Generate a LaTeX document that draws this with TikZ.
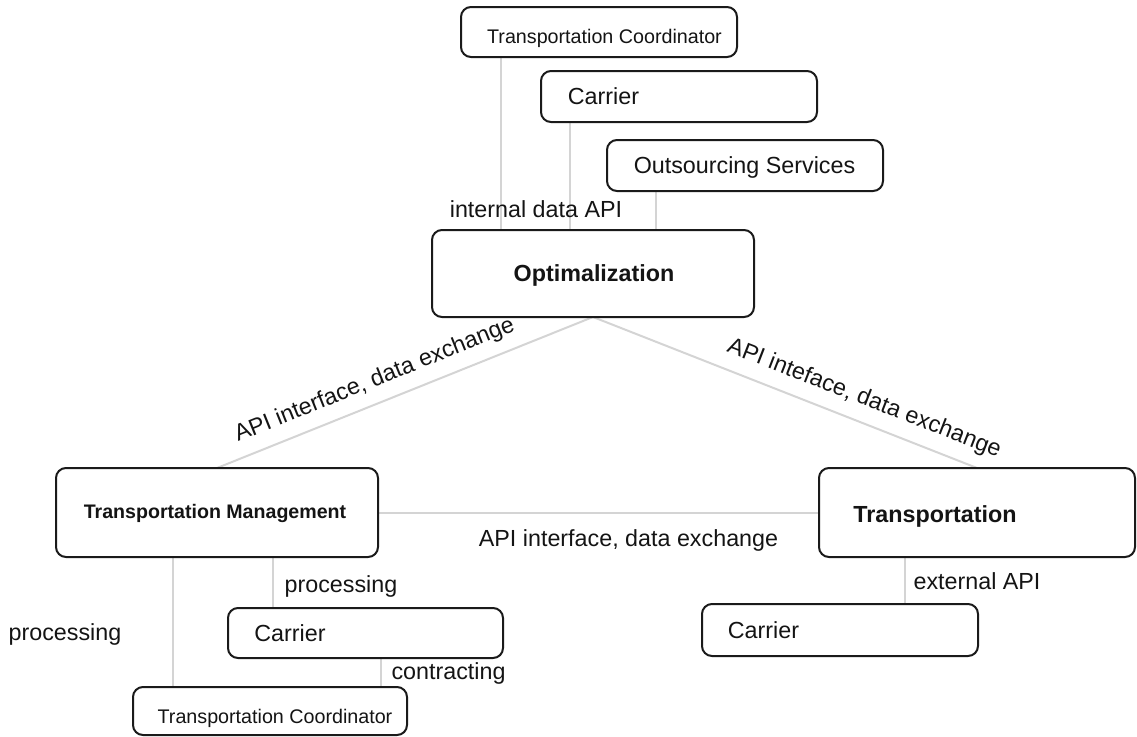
\documentclass[tikz,border=0pt]{standalone}
\usepackage{fontspec}
\setmainfont{Liberation Sans}
\usetikzlibrary{calc,backgrounds}
\definecolor{boxline}{HTML}{1A1A1A}
\definecolor{linkgray}{HTML}{D4D4D4}
\definecolor{txt}{HTML}{141414}
\begin{document}
\begin{tikzpicture}[x=1pt,y=-1pt,
  box/.style={draw=boxline, line width=2pt, rounded corners=10pt,
    inner sep=0pt, outer sep=0pt, fill=white},
  link/.style={draw=linkgray, line width=2pt},
  lbl/.style={inner sep=0pt, anchor=base, text=txt,
    font=\fontsize{23.3}{28}\selectfont},
  lblsmall/.style={lbl, font=\fontsize{19.7}{24}\selectfont},
  title/.style={lbl, font=\fontsize{23.3}{28}\selectfont\bfseries},
  titlesmall/.style={lbl, font=\fontsize{19.6}{24}\selectfont\bfseries}
]
\useasboundingbox (0,0) rectangle (1137,736);

% boxes
\node[box, minimum width=276pt, minimum height=50pt] (tcTop) at (599,32) {};
\node[box, minimum width=276pt, minimum height=51pt] (carTop) at (679,96.5) {};
\node[box, minimum width=276pt, minimum height=51pt] (outs) at (745,165.5) {};
\node[box, minimum width=322pt, minimum height=87pt] (opt) at (593,273.5) {};
\node[box, minimum width=322pt, minimum height=89pt] (tm) at (217,512.5) {};
\node[box, minimum width=316pt, minimum height=89pt] (tr) at (977,512.5) {};
\node[box, minimum width=275pt, minimum height=50pt] (carL) at (365.5,633) {};
\node[box, minimum width=274pt, minimum height=48pt] (tcBot) at (270,711) {};
\node[box, minimum width=276pt, minimum height=52pt] (carR) at (840,630) {};

% box texts
\node[lblsmall] (tTcTop) at (604.5,43.3) {Transportation Coordinator};
\node[lbl] (tCarTop) at (603.5,104) {Carrier};
\node[lbl] (tOuts) at (744.5,173) {Outsourcing Services};
\node[title] (tOpt) at (594,281) {Optimalization};
\node[titlesmall] (tTm) at (215,518) {Transportation Management};
\node[title] (tTr) at (935,522.7) {Transportation};
\node[lbl] (tCarL) at (290,641) {Carrier};
\node[lblsmall] (tTcBot) at (275,723) {Transportation Coordinator};
\node[lbl] (tCarR) at (763.5,638) {Carrier};

% connectors
\begin{scope}[on background layer]
  \path ([xshift=40pt]tcTop.south west) coordinate (c1)
        ([xshift=29pt]carTop.south west) coordinate (c2)
        ([xshift=49pt]outs.south west) coordinate (c3)
        ([xshift=117pt]tm.south west) coordinate (c4)
        ([xshift=217pt]tm.south west) coordinate (c5)
        ([xshift=153pt]carL.south west) coordinate (c6)
        ([xshift=86pt]tr.south west) coordinate (c7);
  \draw[link] (c1) -- (c1 |- opt.north);
  \draw[link] (c2) -- (c2 |- opt.north);
  \draw[link] (c3) -- (c3 |- opt.north);
  \draw[link] (opt.south) -- (tm.north);
  \draw[link] (opt.south) -- (tr.north);
  \draw[link] (tm.east) -- (tr.west);
  \draw[link] (c4) -- (c4 |- tcBot.north);
  \draw[link] (c5) -- (c5 |- carL.north);
  \draw[link] (c6) -- (c6 |- tcBot.north);
  \draw[link] (c7) -- (c7 |- carR.north);
\end{scope}

% connector labels
\node[lbl] (lInternal) at (536,217) {internal data API};
\node[lbl, rotate=21.9] (lLeft) at (377,386) {API interface, data exchange};
\node[lbl, rotate=-21.3] (lRight) at (862,404.5) {API inteface, data exchange};
\node[lbl] (lMid) at (628.5,546) {API interface, data exchange};
\node[lbl] (lProcA) at (341,592) {processing};
\node[lbl] (lProcB) at (65,640) {processing};
\node[lbl] (lContr) at (448.5,679) {contracting};
\node[lbl] (lExt) at (977,589) {external API};
\end{tikzpicture}
\end{document}
